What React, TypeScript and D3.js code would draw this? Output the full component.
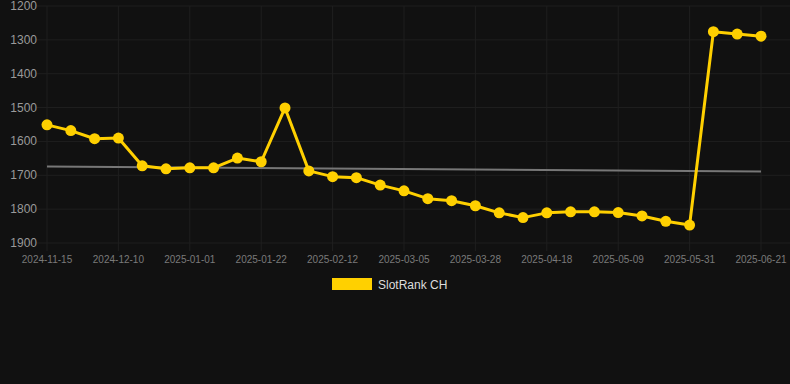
import React from "react";
import * as d3 from "d3";

const categories = [
  "2024-11-15", "2024-11-23", "2024-12-02", "2024-12-10", "2024-12-17", "2024-12-24",
  "2025-01-01", "2025-01-08", "2025-01-15", "2025-01-22", "2025-01-29", "2025-02-05",
  "2025-02-12", "2025-02-19", "2025-02-26", "2025-03-05", "2025-03-13", "2025-03-20",
  "2025-03-28", "2025-04-04", "2025-04-11", "2025-04-18", "2025-04-25", "2025-05-02",
  "2025-05-09", "2025-05-16", "2025-05-23", "2025-05-31", "2025-06-07", "2025-06-14",
  "2025-06-21",
];

const rankValues = [
  1551, 1568, 1592, 1590, 1672, 1681, 1678, 1678, 1649, 1660, 1501, 1687, 1704, 1707,
  1729, 1746, 1769, 1775, 1790, 1811, 1825, 1811, 1808, 1808, 1810, 1820, 1836, 1847,
  1276, 1283, 1289,
];

const trendValues = [1674, 1689];

const yTicks = [1200, 1300, 1400, 1500, 1600, 1700, 1800, 1900];

const seriesName = "SlotRank CH";

const W = 790;
const H = 384;
const FONT = "'Liberation Sans', Arial, Helvetica, sans-serif";

export default function App() {
  const x = d3.scalePoint<string>().domain(categories).range([47, 761]);
  const y = d3.scaleLinear().domain([1200, 1900]).range([6, 243]);

  const labelCats = categories.filter((_, i) => i % 3 === 0);

  const line = d3
    .line<number>()
    .x((_, i) => x(categories[i]) as number)
    .y((d) => y(d));

  const x0 = x(categories[0]) as number;
  const x1 = x(categories[categories.length - 1]) as number;

  return (
    <svg
      width={W}
      height={H}
      style={{ position: "absolute", left: 0, top: 0, background: "#111111" }}
    >
      <rect x={0} y={0} width={W} height={H} fill="#111111" />
      {yTicks.map((t) => (
        <g key={t}>
          <line x1={37} x2={W} y1={y(t)} y2={y(t)} stroke="#1f1f1f" strokeWidth={1} />
          <text
            x={37}
            y={y(t)}
            textAnchor="end"
            dominantBaseline="central"
            fill="#9a9a9a"
            fontSize={12}
            fontFamily={FONT}
          >
            {t}
          </text>
        </g>
      ))}
      {labelCats.map((c) => (
        <g key={c}>
          <line
            x1={x(c)}
            x2={x(c)}
            y1={y(1200)}
            y2={y(1900) + 8}
            stroke="#1f1f1f"
            strokeWidth={1}
          />
          <text
            x={x(c)}
            y={259}
            textAnchor="middle"
            dominantBaseline="central"
            fill="#7a7a7a"
            fontSize={10}
            fontFamily={FONT}
          >
            {c}
          </text>
        </g>
      ))}
      <line
        x1={x0}
        x2={x1}
        y1={y(trendValues[0])}
        y2={y(trendValues[1])}
        stroke="#777777"
        strokeWidth={2}
      />
      <path
        d={line(rankValues) || ""}
        fill="none"
        stroke="#FFD000"
        strokeWidth={3}
        strokeLinejoin="round"
      />
      {rankValues.map((v, i) => (
        <circle
          key={i}
          cx={x(categories[i]) as number}
          cy={y(v)}
          r={5.5}
          fill="#FFD000"
        />
      ))}
      <rect x={332} y={278} width={40} height={12} fill="#FFD000" />
      <text
        x={378}
        y={284.5}
        dominantBaseline="central"
        fill="#dddddd"
        fontSize={12}
        fontFamily={FONT}
      >
        {seriesName}
      </text>
    </svg>
  );
}
